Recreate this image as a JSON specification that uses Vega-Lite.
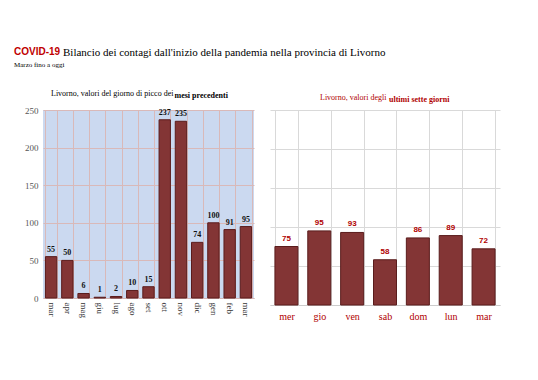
{
  "$schema": "https://vega.github.io/schema/vega-lite/v6.json",
  "background": "white",
  "padding": {"left": 14, "top": 47, "right": 5, "bottom": 5},
  "config": {
    "view": {"stroke": null},
    "font": "Liberation Serif",
    "concat": {"spacing": 16}
  },
  "title": {
    "text": "Bilancio dei contagi dall'inizio della pandemia nella provincia di Livorno",
    "anchor": "start", "frame": "bounds", "dx": 49, "dy": 11, "offset": 0,
    "font": "Liberation Serif", "fontSize": 11, "fontWeight": "normal", "color": "#000000"
  },
  "vconcat": [
    {
      "title": {
        "text": "COVID-19", "subtitle": "Marzo fino a oggi",
        "anchor": "start", "frame": "bounds", "offset": 22,
        "font": "Liberation Sans", "fontSize": 10, "fontWeight": "bold", "color": "#c00000",
        "subtitleFont": "Liberation Serif", "subtitleFontSize": 7, "subtitleColor": "#000000", "subtitlePadding": 4
      },
      "hconcat": [
        {
          "title": {"text": "mesi precedenti", "anchor": "start", "frame": "bounds", "dx": 160.5, "dy": 10, "offset": 0,
            "font": "Liberation Serif", "fontSize": 8, "fontWeight": "bold", "color": "#000000"},
          "vconcat": [
            {
              "width": 211, "height": 188,
              "view": {"fill": "#cbd9f0", "stroke": null},
              "title": {"text": "Livorno, valori del giorno di picco dei", "anchor": "start", "frame": "group", "dx": 8, "offset": 8,
                "font": "Liberation Serif", "fontSize": 8, "fontWeight": "normal", "color": "#000000"},
              "data": {"values": [
                {"mese": "mar20", "casi": 55}, {"mese": "apr20", "casi": 50}, {"mese": "mag20", "casi": 6},
                {"mese": "giu20", "casi": 1}, {"mese": "lug20", "casi": 2}, {"mese": "ago20", "casi": 10},
                {"mese": "set20", "casi": 15}, {"mese": "ott20", "casi": 237}, {"mese": "nov20", "casi": 235},
                {"mese": "dic20", "casi": 74}, {"mese": "gen21", "casi": 100}, {"mese": "feb21", "casi": 91},
                {"mese": "mar21", "casi": 95}
              ]},
              "encoding": {
                "x": {"field": "mese", "type": "nominal", "sort": null,
                  "scale": {"paddingInner": 0.3, "paddingOuter": 0.15},
                  "axis": {"title": null, "labelAngle": 90, "labelAlign": "left", "labelBaseline": "middle",
                    "labelExpr": "substring(datum.label, 0, 3)", "labelFont": "Liberation Serif", "labelFontSize": 9,
                    "labelColor": "#333333", "labelPadding": 4, "ticks": false, "domain": true, "domainColor": "#d4b4b4",
                    "grid": true, "tickBand": "extent", "gridColor": "#d9b9b9", "gridWidth": 1}},
                "y": {"field": "casi", "type": "quantitative",
                  "scale": {"domain": [0, 250], "nice": false},
                  "axis": {"title": null, "values": [0, 50, 100, 150, 200, 250], "labelFont": "Liberation Serif",
                    "labelFontSize": 9, "labelColor": "#555555", "ticks": false, "domain": false, "labelPadding": 5,
                    "minExtent": 29, "gridColor": "#d9b9b9", "gridWidth": 1}}
              },
              "layer": [
                {"mark": {"type": "bar", "fill": "#833535", "stroke": "#5a1c1c", "strokeWidth": 1}},
                {"mark": {"type": "text", "baseline": "bottom", "dy": -3, "font": "Liberation Serif", "fontSize": 8,
                  "fontWeight": "bold", "color": "#111111"},
                  "encoding": {"text": {"field": "casi", "type": "quantitative"}}}
              ]
            }
          ]
        },
        {
          "title": {"text": "ultimi sette giorni", "anchor": "start", "frame": "bounds", "dx": 119, "dy": 10, "offset": 0,
            "font": "Liberation Serif", "fontSize": 8, "fontWeight": "bold", "color": "#b00000"},
          "vconcat": [
            {
              "width": 230, "height": 195,
              "view": {"stroke": null},
              "title": {"text": "Livorno, valori degli", "anchor": "start", "frame": "group", "dx": 50, "offset": 8,
                "font": "Liberation Serif", "fontSize": 8, "fontWeight": "normal", "color": "#b00000"},
              "data": {"values": [
                {"giorno": "mer", "casi": 75}, {"giorno": "gio", "casi": 95}, {"giorno": "ven", "casi": 93},
                {"giorno": "sab", "casi": 58}, {"giorno": "dom", "casi": 86}, {"giorno": "lun", "casi": 89},
                {"giorno": "mar", "casi": 72}
              ]},
              "encoding": {
                "x": {"field": "giorno", "type": "nominal", "sort": null,
                  "scale": {"paddingInner": 0.3, "paddingOuter": 0.15},
                  "axis": {"title": null, "labelAngle": 0, "labelFont": "Liberation Serif", "labelFontSize": 10,
                    "labelColor": "#b00000", "labelPadding": 6, "ticks": false, "domain": true, "domainColor": "#cccccc",
                    "grid": true, "tickBand": "extent", "gridColor": "#d9d9d9", "gridWidth": 1}},
                "y": {"field": "casi", "type": "quantitative",
                  "scale": {"domain": [0, 250], "nice": false},
                  "axis": {"title": null, "values": [0, 50, 100, 150, 200, 250], "labels": false,
                    "ticks": false, "domain": false, "gridColor": "#d9d9d9", "gridWidth": 1}}
              },
              "layer": [
                {"mark": {"type": "bar", "fill": "#833535", "stroke": "#5a1c1c", "strokeWidth": 1}},
                {"mark": {"type": "text", "baseline": "bottom", "dy": -4, "font": "Liberation Sans", "fontSize": 8,
                  "fontWeight": "bold", "color": "#b00000"},
                  "encoding": {"text": {"field": "casi", "type": "quantitative"}}}
              ]
            }
          ]
        }
      ]
    }
  ]
}
